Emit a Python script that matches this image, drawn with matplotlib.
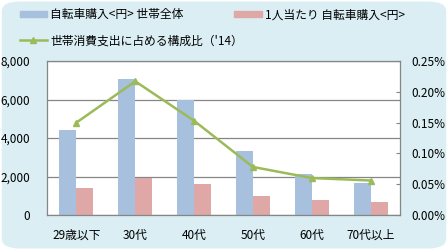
import numpy as np
import matplotlib.pyplot as plt
from matplotlib.patches import FancyBboxPatch
from matplotlib.lines import Line2D
from matplotlib.patches import Patch
from matplotlib.ticker import FuncFormatter

plt.rcParams['font.family'] = ['Noto Sans CJK JP', 'DejaVu Sans']

categories = ["29歳以下", "30代", "40代", "50代", "60代", "70代以上"]
household = [4430, 7070, 5980, 3330, 2130, 1660]
per_person = [1420, 1940, 1610, 990, 780, 680]
share_pct = [0.150, 0.217, 0.153, 0.078, 0.060, 0.056]

blue = "#A7C0DE"
pink = "#DFA7A6"
green = "#9BBB59"
grid_c = "#868686"

fig = plt.figure(figsize=(4.48, 2.5), dpi=100)
fig.patch.set_facecolor("white")
bg = FancyBboxPatch((0.004, 0.006), 0.992, 0.988, boxstyle="round,pad=0,rounding_size=0.04",
                    transform=fig.transFigure, facecolor="#DAEEF3", edgecolor="none", zorder=-10)
fig.patches.append(bg)

ax = fig.add_axes([47/448, 1 - 215/250, 353/448, 154/250])
ax.set_facecolor("white")
x = np.arange(len(categories))
w = 0.29
ax.bar(x - w/2, household, w, color=blue, zorder=2)
ax.bar(x + w/2, per_person, w, color=pink, zorder=2)
ax.set_xlim(-0.5, len(categories) - 0.5)
ax.set_ylim(0, 8000)
ax.set_yticks(range(0, 8001, 2000))
ax.yaxis.set_major_formatter(FuncFormatter(lambda v, p: f"{int(v):,}"))
ax.grid(axis="y", color=grid_c, linewidth=0.9, zorder=1)
ax.set_xticks(x)
ax.set_xticklabels(categories)
ax.tick_params(axis="x", length=0, pad=10, labelsize=8.5)
ax.tick_params(axis="y", length=0, pad=12, labelsize=8.5)
for s in ax.spines.values():
    s.set_color(grid_c)
    s.set_linewidth(0.9)

ax2 = ax.twinx()
ax2.plot(x, share_pct, color=green, linewidth=1.8, marker="^", markersize=5, zorder=3)
ax2.set_ylim(0, 0.25)
ax2.set_yticks(np.arange(0, 0.2501, 0.05))
ax2.yaxis.set_major_formatter(FuncFormatter(lambda v, p: f"{v:.2f}%"))
ax2.tick_params(axis="y", direction="in", length=3, color=grid_c, pad=8, labelsize=8.5)
for s in ax2.spines.values():
    s.set_visible(False)

handles1 = [Patch(color=blue), Patch(color=pink)]
fig.legend(handles1, ["自転車購入<円> 世帯全体", "1人当たり 自転車購入<円>"],
           loc="upper left", bbox_to_anchor=(0.02, 1.01), ncol=2, frameon=False,
           fontsize=8.5, handlelength=2.3, handleheight=0.5, columnspacing=4.3, handletextpad=0.3)
handles2 = [Line2D([0], [0], color=green, linewidth=1.8, marker="^", markersize=4)]
fig.legend(handles2, ["世帯消費支出に占める構成比（'14）"],
           loc="upper left", bbox_to_anchor=(0.02, 0.905), frameon=False,
           fontsize=8.5, handlelength=2.3, handletextpad=0.3)

fig.savefig("out.png", dpi=100)
